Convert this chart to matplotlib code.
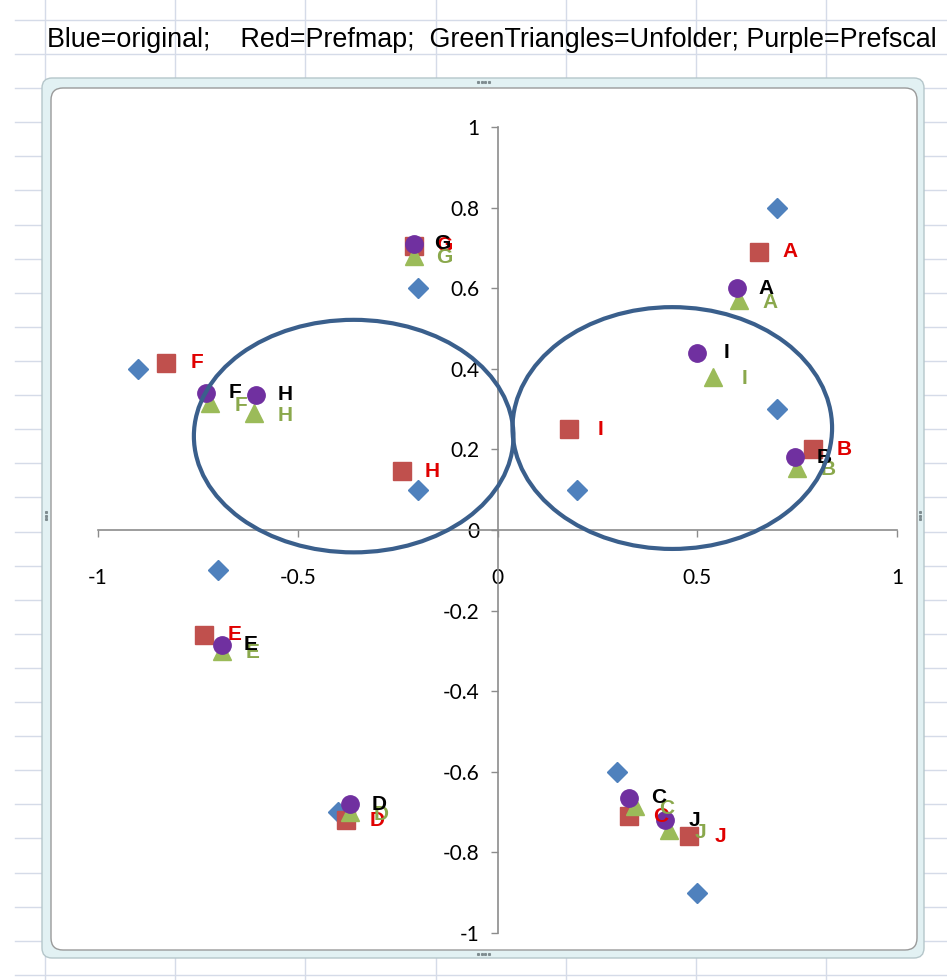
import matplotlib
matplotlib.use('Agg')
import matplotlib.pyplot as plt
from matplotlib.patches import Ellipse, FancyBboxPatch

labels = ['A', 'B', 'C', 'D', 'E', 'F', 'G', 'H', 'I', 'J']

# Blue = original
orig_x = [0.7, 0.7, 0.3, -0.4, -0.7, -0.9, -0.2, -0.2, 0.2, 0.5]
orig_y = [0.8, 0.3, -0.6, -0.7, -0.1, 0.4, 0.6, 0.1, 0.1, -0.9]

# Red = Prefmap
prefmap_x = [0.655, 0.79, 0.33, -0.38, -0.735, -0.83, -0.21, -0.24, 0.18, 0.48]
prefmap_y = [0.69, 0.20, -0.71, -0.72, -0.26, 0.415, 0.705, 0.146, 0.25, -0.76]

# Green triangles = Unfolder
unfolder_x = [0.605, 0.75, 0.345, -0.37, -0.69, -0.72, -0.21, -0.61, 0.54, 0.43]
unfolder_y = [0.57, 0.155, -0.685, -0.70, -0.30, 0.315, 0.68, 0.29, 0.38, -0.745]

# Purple = Prefscal
prefscal_x = [0.60, 0.745, 0.33, -0.37, -0.69, -0.73, -0.21, -0.605, 0.50, 0.42]
prefscal_y = [0.60, 0.18, -0.665, -0.68, -0.285, 0.34, 0.71, 0.335, 0.44, -0.72]

ticks_x = [-1, -0.5, 0, 0.5, 1]
ticks_y = [-1, -0.8, -0.6, -0.4, -0.2, 0, 0.2, 0.4, 0.6, 0.8, 1]

W, H = 947, 980
fig = plt.figure(figsize=(W / 100, H / 100), dpi=100)
fig.patch.set_facecolor('white')

# spreadsheet background, in pixel coordinates
bg = fig.add_axes([0, 0, 1, 1])
bg.set_xlim(0, W)
bg.set_ylim(H, 0)
bg.axis('off')
grid_c = '#D5DBE8'
for i in range(29):
    yy = 20 + i * 34.1
    bg.plot([15, W], [yy, yy], color=grid_c, lw=1, zorder=0)
for i in range(8):
    xx = 45 + i * 130.2
    bg.plot([xx, xx], [0, H], color=grid_c, lw=1, zorder=0)

bg.text(47, 40, 'Blue=original;    Red=Prefmap;  GreenTriangles=Unfolder; Purple=Prefscal',
        fontsize=19.4, family='Liberation Sans', va='center', ha='left', color='black')

# chart frame
outer = FancyBboxPatch((42, 78), 882, 880, boxstyle='round,pad=0,rounding_size=10',
                       facecolor='#E2F1F3', edgecolor='#B5C6CA', lw=1, zorder=1)
inner = FancyBboxPatch((51, 88), 866, 862, boxstyle='round,pad=0,rounding_size=12',
                       facecolor='white', edgecolor='#9A9A9A', lw=1, zorder=2)
bg.add_patch(outer)
bg.add_patch(inner)
for k in range(4):
    bg.plot(478 + k * 3.5, 82, 's', ms=1.2, color='#7F8C90', zorder=3)
    bg.plot(478 + k * 3.5, 954, 's', ms=1.2, color='#7F8C90', zorder=3)
for k in range(3):
    bg.plot(46, 512 + k * 3.5, 's', ms=1.2, color='#7F8C90', zorder=3)
    bg.plot(920, 512 + k * 3.5, 's', ms=1.2, color='#7F8C90', zorder=3)

# plot area: x -1..1 -> 98..897 px, y 1..-1 -> 127..933 px
ax = fig.add_axes([98 / W, (H - 933) / H, 799 / W, 806 / H])
ax.set_facecolor('none')
ax.set_xlim(-1, 1)
ax.set_ylim(-1, 1)

for s in ['top', 'right']:
    ax.spines[s].set_visible(False)
ax.spines['left'].set_position(('data', 0))
ax.spines['bottom'].set_position(('data', 0))
for s in ['left', 'bottom']:
    ax.spines[s].set_color('#8C8C8C')
    ax.spines[s].set_linewidth(1.2)

ax.set_xticks(ticks_x)
ax.set_xticklabels(['-1', '-0.5', '0', '0.5', '1'])
ax.set_yticks(ticks_y)
ax.set_yticklabels(['-1', '-0.8', '-0.6', '-0.4', '-0.2', '0', '0.2', '0.4', '0.6', '0.8', '1'])
ax.tick_params(axis='x', direction='out', length=5, width=1, color='#8C8C8C', pad=22,
               labelsize=15, labelfontfamily='Lato')
ax.tick_params(axis='y', direction='out', length=5, width=1, color='#8C8C8C', pad=8,
               labelsize=15, labelfontfamily='Lato')

blue = '#4F81BD'
red = '#C0504D'
green = '#9BBB59'
purple = '#7030A0'

ax.plot(orig_x, orig_y, 'D', color=blue, ms=10, mec=blue, ls='none', clip_on=False, zorder=3)
ax.plot(prefmap_x, prefmap_y, 's', color=red, ms=13, mec=red, ls='none', clip_on=False, zorder=4)
ax.plot(unfolder_x, unfolder_y, '^', color=green, ms=13, mec=green, ls='none', clip_on=False, zorder=5)
ax.plot(prefscal_x, prefscal_y, 'o', color=purple, ms=12.5, mec=purple, ls='none', clip_on=False, zorder=6)

lab_font = dict(fontsize=15, fontweight='bold', family='Liberation Sans', ha='center', va='center')
for i, lab in enumerate(labels):
    ax.annotate(lab, (prefmap_x[i], prefmap_y[i]), xytext=(31, 0), textcoords='offset pixels',
                color='#E00000', zorder=7, **lab_font)
    ax.annotate(lab, (unfolder_x[i], unfolder_y[i]), xytext=(31, -2), textcoords='offset pixels',
                color='#8AA84C', zorder=7, **lab_font)
    ax.annotate(lab, (prefscal_x[i], prefscal_y[i]), xytext=(29, 0), textcoords='offset pixels',
                color='black', zorder=8, **lab_font)

ring_c = '#3A5F8C'
ax.add_patch(Ellipse((-0.36, 0.233), 0.8, 0.577, fill=False, ec=ring_c, lw=3, zorder=9, clip_on=False))
ax.add_patch(Ellipse((0.4375, 0.253), 0.8, 0.6, fill=False, ec=ring_c, lw=3, zorder=9, clip_on=False))

fig.savefig('out.png', dpi=100)
